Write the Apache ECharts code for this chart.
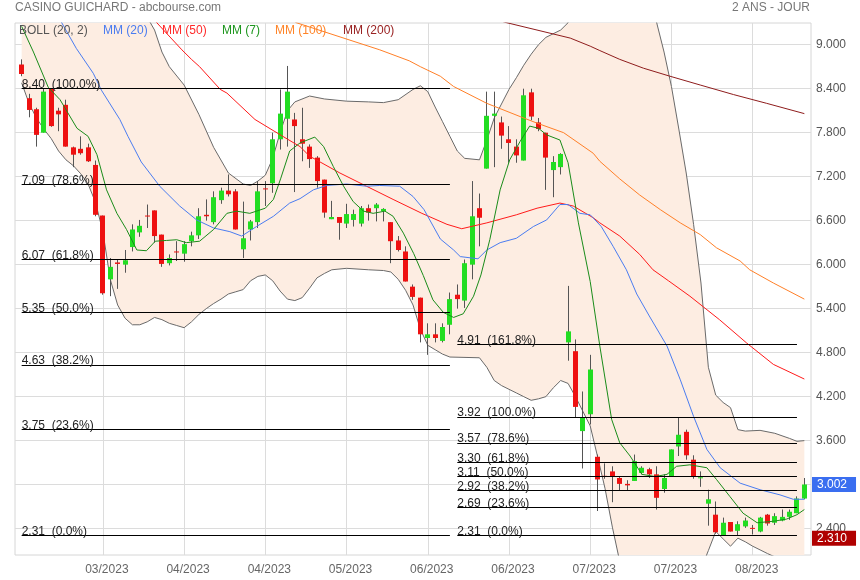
<!DOCTYPE html>
<html><head><meta charset="utf-8">
<script src="https://cdn.jsdelivr.net/npm/echarts@6/dist/echarts.min.js"></script>
<style>html,body{margin:0;padding:0;background:#fff}#c{width:860px;height:580px}</style>
</head><body><div id="c"></div>
<script>
// ---- candles (one per trading day) ----
const opens  = [8.73,8.27,8.12,7.80,8.40,8.10,8.18,7.60,7.58,7.60,7.36,6.67,5.80,6.03,6.00,6.24,6.44,6.67,6.74,6.41,6.02,6.18,6.15,6.32,6.40,6.68,6.58,6.88,7.01,7.00,6.21,6.48,6.58,7.04,7.11,7.71,7.99,7.98,7.71,7.61,7.46,7.16,6.62,6.65,6.56,6.61,6.56,6.77,6.77,6.73,6.58,6.33,6.18,5.70,5.55,5.00,5.05,4.96,5.18,5.59,5.51,6.00,6.77,7.31,8.03,7.94,7.71,7.61,7.42,8.35,7.94,7.80,7.29,7.33,4.94,4.82,3.73,3.96,3.38,3.12,3.18,3.09,3.01,3.05,3.16,3.21,3.14,2.94,3.11,3.52,3.72,3.34,3.09,2.74,2.59,2.31,2.49,2.37,2.43,2.41,2.36,2.59,2.48,2.51,2.56,2.61,2.81];
const highs  = [8.80,8.33,8.14,8.40,8.40,8.14,8.25,7.61,7.75,7.65,7.42,6.67,6.09,6.07,6.20,6.55,6.61,6.82,6.74,6.41,6.14,6.32,6.32,6.45,6.77,6.89,7.00,7.05,7.23,7.03,6.86,6.61,7.14,7.14,7.80,8.39,8.71,8.07,8.14,7.64,7.48,7.16,6.87,6.65,6.83,6.75,6.80,6.82,6.84,6.77,6.58,6.39,6.25,5.73,5.55,5.20,5.20,5.20,5.62,5.73,6.07,7.14,6.97,8.36,8.36,8.02,7.89,7.71,8.40,8.40,8.00,7.80,7.48,7.52,5.71,4.98,4.27,4.77,3.41,3.29,3.25,3.11,3.06,3.41,3.25,3.23,3.25,3.14,3.48,3.91,3.75,3.40,3.18,2.93,2.77,2.55,2.49,2.50,2.55,2.45,2.56,2.60,2.61,2.66,2.66,2.84,3.09];
const lows   = [8.57,8.01,7.61,7.80,7.88,7.82,7.61,7.33,7.50,7.40,6.66,5.59,5.57,5.67,5.89,6.18,6.38,6.50,6.30,5.97,5.99,6.05,6.04,6.25,6.35,6.60,6.55,6.83,6.93,6.48,6.09,6.33,6.50,6.80,6.98,7.57,7.61,6.99,7.41,7.32,7.05,6.64,6.62,6.34,6.50,6.52,6.52,6.60,6.59,6.59,6.02,6.18,5.77,5.52,4.94,4.77,4.94,4.94,5.05,5.40,5.41,5.80,6.25,7.31,7.33,7.58,7.39,7.39,7.42,7.97,7.82,7.02,6.92,7.23,4.69,3.91,3.22,3.82,2.64,3.08,2.76,2.92,2.92,3.05,3.14,3.09,2.66,2.89,3.11,3.39,3.34,3.08,2.97,2.44,2.33,2.31,2.36,2.31,2.41,2.32,2.35,2.44,2.45,2.50,2.52,2.61,2.80];
const closes = [8.60,8.11,7.77,8.36,7.89,8.05,7.61,7.50,7.52,7.41,6.68,5.61,5.97,6.01,6.06,6.48,6.53,6.66,6.39,6.01,6.09,6.17,6.28,6.40,6.66,6.66,6.92,7.01,6.96,6.48,6.36,6.59,7.00,7.03,7.71,8.06,8.36,7.89,7.65,7.44,7.14,6.71,6.65,6.57,6.69,6.69,6.77,6.71,6.82,6.76,6.32,6.20,5.77,5.56,5.05,5.05,5.00,5.15,5.53,5.53,6.02,6.66,6.64,8.03,8.06,7.76,7.66,7.49,8.31,8.02,7.85,7.46,7.40,7.51,5.09,4.06,3.92,4.57,3.07,3.11,3.11,3.01,2.99,3.32,3.23,3.14,2.82,3.09,3.48,3.68,3.40,3.11,3.10,2.80,2.35,2.48,2.36,2.46,2.51,2.40,2.55,2.47,2.57,2.56,2.63,2.81,3.002];

// ---- axes ----
const xTickIndex  = [11,22,33,44,55,66,77,88,99];
const xTickLabels = ['03/2023','04/2023','04/2023','05/2023','06/2023','06/2023','07/2023','07/2023','08/2023'];
const yTicks = [2.4,3.0,3.6,4.2,4.8,5.4,6.0,6.6,7.2,7.8,8.4,9.0];

// ---- indicators, read as [day index, value] ----
const mm7 = [[0,9.25],[1.6,8.9],[3.6,8.42],[5.2,8.25],[6.2,8.08],[7.5,7.86],[9.0,7.75],[10.2,7.5],[11.5,7.02],[12.9,6.70],[14.2,6.48],[15.6,6.2],[16.9,6.19],[18.1,6.32],[19.6,6.33],[21,6.34],[22.3,6.30],[24.1,6.32],[26,6.48],[27.8,6.70],[29.1,6.73],[30.9,6.70],[33,6.77],[34.1,6.89],[35.1,7.18],[36.3,7.55],[37.7,7.66],[39.7,7.74],[40.9,7.61],[42.2,7.34],[43.6,7.07],[44.9,6.86],[46.3,6.73],[47.6,6.70],[49.2,6.73],[50.3,6.66],[51.7,6.43],[53.1,6.15],[54.4,5.85],[55.7,5.52],[57.1,5.35],[58.5,5.28],[59.8,5.33],[61.2,5.57],[62.2,5.86],[63.4,6.34],[64.8,7.02],[66.1,7.43],[67.5,7.68],[68.8,7.89],[70,7.86],[71.1,7.77],[72.9,7.70],[74,7.39],[75.4,6.57],[77,5.77],[78.3,4.89],[79.9,3.89],[81,3.57],[82.4,3.39],[84,3.14],[85.8,3.11],[87.4,3.14],[88.7,3.25],[90.5,3.27],[92.8,3.23],[94.1,3.07],[95.9,2.84],[97.7,2.61],[99.6,2.48],[101.8,2.50],[103.6,2.53],[105,2.59],[106,2.66]];
const mm20 = [[3.5,9.65],[5.2,9.34],[7.4,8.95],[9.7,8.61],[10.8,8.38],[13.3,7.98],[14.4,7.75],[16.2,7.4],[18.7,7.07],[21.4,6.80],[23.7,6.61],[26,6.50],[28.2,6.45],[29.8,6.39],[31.8,6.52],[34.1,6.66],[36.3,6.84],[37.7,6.90],[39.5,7.02],[41.3,7.08],[44,7.10],[46.7,7.07],[48.5,7.08],[51.2,7.07],[53,6.93],[54.5,6.75],[56.7,6.35],[58.5,6.20],[59.4,6.11],[61.8,6.08],[63,6.20],[64.8,6.30],[67,6.36],[69.3,6.52],[71.1,6.61],[72.9,6.82],[74,6.82],[75.6,6.70],[77,6.68],[78.5,6.52],[80.1,6.25],[81.9,5.93],[83.3,5.6],[85,5.3],[87.4,4.89],[89.2,4.43],[91,3.93],[92.8,3.48],[94.6,3.23],[97.3,3.02],[100,2.93],[102.7,2.86],[104.5,2.80],[106,2.80]];
const mm50 = [[17,9.45],[18.3,9.3],[21.7,8.93],[23,8.80],[24.1,8.70],[26.9,8.39],[27.8,8.34],[31.6,7.98],[35.2,7.76],[37.7,7.61],[39,7.48],[43.1,7.25],[46.7,7.07],[50.3,6.89],[54.2,6.70],[57.6,6.55],[59.6,6.49],[63,6.57],[67,6.68],[69.8,6.77],[72.9,6.84],[74.7,6.80],[77.4,6.64],[78.3,6.57],[81,6.39],[83.7,6.14],[85.5,5.93],[87.6,5.78],[90.5,5.57],[92,5.45],[94.5,5.25],[98.2,4.93],[101.8,4.64],[106,4.44]];
const mm100 = [[36,9.4],[37.2,9.3],[48.5,8.93],[52.5,8.78],[54,8.70],[56.7,8.57],[58.5,8.43],[63,8.20],[67.5,8.02],[69.8,7.93],[73.4,7.80],[77.4,7.52],[78.3,7.41],[81,7.17],[83.7,6.95],[86.5,6.75],[89.2,6.57],[91.9,6.41],[94.1,6.23],[97.3,6.05],[98.6,5.93],[101.8,5.75],[106,5.53]];
const mm200 = [[64,9.35],[65.7,9.30],[74.3,9.09],[77,8.98],[78.3,8.92],[81,8.80],[84.2,8.68],[87.8,8.57],[91.9,8.45],[96.4,8.32],[100.9,8.20],[106,8.06]];
const bollUpper = [[0,11.0],[6,10.6],[12,10.0],[16,9.55],[18,9.2],[19,8.9],[20,8.7],[22,8.45],[24,8.05],[26,7.6],[28,7.25],[30,7.1],[31,7.08],[32,7.14],[33,7.22],[34,7.45],[35,7.8],[36,8.1],[37,8.22],[39,8.3],[41,8.26],[44,8.23],[47,8.22],[49,8.21],[51,8.25],[53,8.39],[54,8.44],[55,8.36],[56,8.15],[57,7.95],[58,7.75],[59,7.55],[60,7.45],[62,7.43],[63,7.7],[64,8.0],[66,8.39],[67,8.55],[68,8.72],[69,8.87],[70,9.0],[71,9.1],[73,9.2],[74,9.3],[76,9.8],[80,10.2],[84,9.9],[86,9.3],[87,8.9],[88,8.43],[89,7.85],[90,7.25],[91,6.55],[92,5.75],[93,4.6],[94,4.22],[95,4.12],[96,4.05],[97,3.75],[98,3.73],[100,3.74],[102,3.70],[104,3.63],[105,3.59],[106,3.60]];
const bollLower = [[0,8.48],[1,8.2],[2,8.0],[3,7.85],[4,7.72],[5,7.55],[6,7.43],[7,7.35],[8,7.24],[9,7.1],[10,6.85],[11,6.45],[12,5.8],[13,5.45],[14,5.27],[15,5.18],[16,5.18],[17,5.22],[18,5.28],[19,5.25],[20,5.2],[21,5.17],[22,5.14],[23,5.22],[24,5.32],[25,5.4],[26,5.47],[27,5.53],[28,5.6],[29,5.63],[30,5.66],[31,5.78],[32,5.84],[33,5.86],[34,5.78],[35,5.64],[36,5.53],[37,5.51],[38,5.55],[39,5.68],[40,5.82],[41,5.88],[42,5.93],[44,5.95],[47,5.93],[49,5.92],[50,5.9],[51,5.8],[52,5.65],[53,5.45],[54,5.12],[55,4.9],[56,4.84],[57,4.78],[58,4.74],[62,4.73],[63,4.6],[64,4.42],[65,4.35],[66,4.3],[67,4.25],[68,4.2],[69,4.15],[70,4.17],[71,4.2],[72,4.32],[73,4.42],[74,4.38],[75,4.2],[76,4.0],[77,3.8],[78,3.38],[79,2.95],[80,2.42],[81,1.95],[85,1.3],[89,1.0],[91,1.5],[92,1.85],[93,2.1],[94,2.36],[95,2.26],[96,2.16],[97,2.27],[98,2.22],[99,2.16],[100,2.11],[101,2.06],[103,1.97],[106,1.85]];

// ---- Fibonacci retracements ----
const fib1Levels = [8.40,7.09,6.07,5.35,4.63,3.75,2.31];
const fib1Pcts   = [100.0,78.6,61.8,50.0,38.2,23.6,0.0];
const fib1Range  = [0,58];
const fib2Levels = [4.91,3.92,3.57,3.30,3.11,2.92,2.69,2.31];
const fib2Pcts   = [161.8,100.0,78.6,61.8,50.0,38.2,23.6,0.0];
const fib2Range  = [59,105];

const lastPrice = 3.002;
const lowPrice = 2.310;

const FONT = '"Liberation Sans", Arial, sans-serif';
const UP = '#22dd22', DOWN = '#ee1111';

function fibData(levels, pcts, range){
  return levels.map((lv,i)=>[
    {name: lv.toFixed(2)+'  ('+pcts[i].toFixed(1)+'%)', coord:[range[0], lv]},
    {coord:[range[1], lv]}
  ]);
}
function lineSeries(name, data, color, z){
  return {name, type:'line', data, showSymbol:false, symbol:'none', silent:true, z,
    lineStyle:{color, width:1}, itemStyle:{color}, animation:false};
}

const chart = echarts.init(document.getElementById('c'), null, {renderer:'canvas'});
const option = {
  animation:false,
  textStyle:{fontFamily:FONT},
  grid:{left:15, right:49, top:23, bottom:25, show:true, borderColor:'#d6d6d6', borderWidth:1},
  xAxis:{type:'value', min:-0.9, max:106.9,
    axisLine:{show:false}, axisTick:{show:false, customValues:xTickIndex},
    axisLabel:{customValues:xTickIndex, color:'#666', fontSize:12, margin:9, fontFamily:FONT, padding:[0,0,0,8],
      formatter:v=>xTickLabels[xTickIndex.indexOf(Math.round(v))] || ''},
    splitLine:{show:true, lineStyle:{color:'#dcdcdc'}}},
  yAxis:{type:'value', position:'right', min:2.04, max:9.296, scale:true,
    axisLine:{show:false}, axisTick:{show:false, customValues:yTicks},
    axisLabel:{customValues:yTicks, color:'#555', fontSize:12, margin:5, fontFamily:FONT,
      formatter:v=>v.toFixed(3), padding:[0,0,4,0]},
    splitLine:{show:true, lineStyle:{color:'#dcdcdc'}}},
  graphic:[
    {type:'text', left:15, top:2, style:{text:'CASINO GUICHARD - abcbourse.com', fill:'#777', font:'12px '+FONT}},
    {type:'text', right:50, top:2, style:{text:'2 ANS - JOUR', fill:'#777', font:'12px '+FONT}},
    {type:'text', left:19, top:25, z:20, style:{text:'BOLL (20, 2)', fill:'#555', font:'12px '+FONT}},
    {type:'text', left:103, top:25, z:20, style:{text:'MM (20)', fill:'#4a7cf0', font:'12px '+FONT}},
    {type:'text', left:162, top:25, z:20, style:{text:'MM (50)', fill:'#ff2a2a', font:'12px '+FONT}},
    {type:'text', left:222, top:25, z:20, style:{text:'MM (7)', fill:'#1e961e', font:'12px '+FONT}},
    {type:'text', left:275, top:25, z:20, style:{text:'MM (100)', fill:'#ff8428', font:'12px '+FONT}},
    {type:'text', left:343, top:25, z:20, style:{text:'MM (200)', fill:'#992222', font:'12px '+FONT}}
  ],
  series:[
    {type:'custom', name:'bandfill', clip:true, silent:true, z:1, data:[[50,5]],
      renderItem:(params, api)=>{
        const pts = bollUpper.map(p=>api.coord(p)).concat(bollLower.slice().reverse().map(p=>api.coord(p)));
        return {type:'polygon', shape:{points:pts}, style:{fill:'#fdede2'}};
      }},
    lineSeries('bollU', bollUpper, '#6a6a6a', 2),
    lineSeries('bollL', bollLower, '#6a6a6a', 2),
    {type:'custom', name:'candles', clip:true, silent:true, z:3,
      data: opens.map((o,i)=>[i,o,closes[i],lows[i],highs[i]]),
      encode:{x:0, y:[1,2,3,4]},
      renderItem:(params, api)=>{
        const i=api.value(0), o=api.value(1), c=api.value(2), l=api.value(3), h=api.value(4);
        const pO=api.coord([i,o]), pC=api.coord([i,c]), pL=api.coord([i,l]), pH=api.coord([i,h]);
        const w=5;
        const x0=Math.round(pO[0]-w/2);
        const top=Math.min(pO[1],pC[1]);
        const hh=Math.max(Math.abs(pO[1]-pC[1]),1);
        return {type:'group', children:[
          {type:'line', shape:{x1:x0+2.5, y1:pH[1], x2:x0+2.5, y2:pL[1]}, style:{stroke:'#555', lineWidth:1}},
          {type:'rect', shape:{x:x0, y:top, width:w, height:hh}, style:{fill: c>=o?UP:DOWN}}
        ]};
      }},
    lineSeries('MM200', mm200, '#8e1c1c', 4),
    lineSeries('MM100', mm100, '#ff7f27', 4),
    lineSeries('MM50', mm50, '#ff1a1a', 4),
    lineSeries('MM20', mm20, '#4a7cf0', 4),
    lineSeries('MM7', mm7, '#1a8c1a', 4),
    {type:'line', name:'fib', data:[], z:5, silent:true,
      markLine:{silent:true, symbol:['none','none'], animation:false,
        lineStyle:{color:'#000', width:1, type:'solid'},
        label:{position:'insideStartTop', formatter:'{b}', color:'#222', fontSize:12, fontFamily:FONT, distance:[0,-2]},
        data: fibData(fib1Levels, fib1Pcts, fib1Range).concat(fibData(fib2Levels, fib2Pcts, fib2Range))}},
    {type:'line', name:'prices', data:[], z:6, silent:true,
      markLine:{silent:true, symbol:['none','none'], animation:false,
        lineStyle:{color:'rgba(0,0,0,0)', width:1},
        label:{show:true, position:'end', distance:1, color:'#fff', fontSize:12, fontFamily:FONT, padding:[2,9,1,5],
          formatter:'{b}'},
        data:[
          {yAxis:lastPrice, name:lastPrice.toFixed(3), label:{backgroundColor:'#3a6ef0'}},
          {yAxis:lowPrice, name:lowPrice.toFixed(3), label:{backgroundColor:'#b00000', offset:[0,3]}}
        ]}}
  ]
};
chart.setOption(option);
</script></body></html>
